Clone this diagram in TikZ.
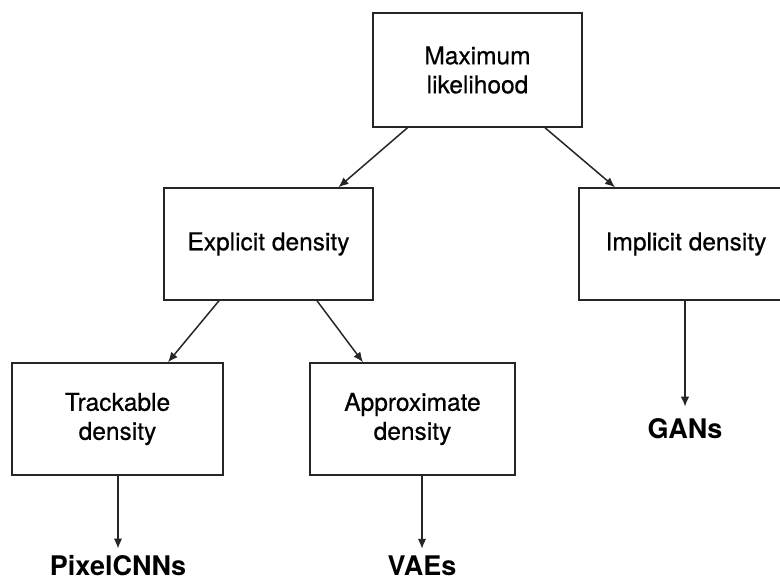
\documentclass[tikz,border=0pt]{standalone}
\usepackage{fontspec}
\setmainfont{TeX Gyre Heros}
\usetikzlibrary{arrows.meta,calc}

\tikzset{
  box/.style={draw=black!85, line width=1.5pt, align=center, inner sep=0pt,
    font=\fontsize{24.5}{29}\selectfont\addfontfeature{FakeBold=0.6}},
  leaf/.style={inner sep=0pt, font=\fontsize{27}{32}\selectfont\bfseries},
  arr/.style={draw=black!85, line width=1.5pt, -{Latex[length=10pt,width=8.5pt]}}
}

\begin{document}
\begin{tikzpicture}[x=1pt,y=-1pt]
  \useasboundingbox (0,0) rectangle (780,583);
  \clip (0,0) rectangle (780,583);

  % tree of density models
  \node[box, minimum width=209pt, minimum height=114pt] (ml)  at (477.5,70)  {Maximum\\likelihood};
  \node[box, minimum width=209pt, minimum height=112pt] (exp) at (268.5,244) {Explicit density};
  \node[box, minimum width=214pt, minimum height=112pt] (imp) at (686,244)   {Implicit density};
  \node[box, minimum width=211pt, minimum height=112pt] (trk) at (117.5,419) {Trackable\\density};
  \node[box, minimum width=205pt, minimum height=112pt] (apx) at (412.5,419) {Approximate\\density};

  % model families at the leaves
  \node[leaf] (pix) at (118,566) {PixelCNNs};
  \node[leaf] (vae) at (422,566) {VAEs};
  \node[leaf] (gan) at (685,429) {GANs};

  % connectors
  \draw[arr] ($(ml.south)+(-70,0)$)  -- ($(exp.north)+(70,0)$);
  \draw[arr] ($(ml.south)+(67.5,0)$) -- ($(imp.north)+(-71,0)$);
  \draw[arr] ($(exp.south)+(-49.5,0)$) -- ($(trk.north)+(50.5,0)$);
  \draw[arr] ($(exp.south)+(48.5,0)$)  -- ($(apx.north)+(-49.5,0)$);
  \draw[arr, shorten >=7pt]  (pix.north |- trk.south) -- (pix.north);
  \draw[arr, shorten >=7pt]  (vae.north |- apx.south) -- (vae.north);
  \draw[arr, shorten >=12pt] (gan.north |- imp.south) -- (gan.north);
\end{tikzpicture}
\end{document}
